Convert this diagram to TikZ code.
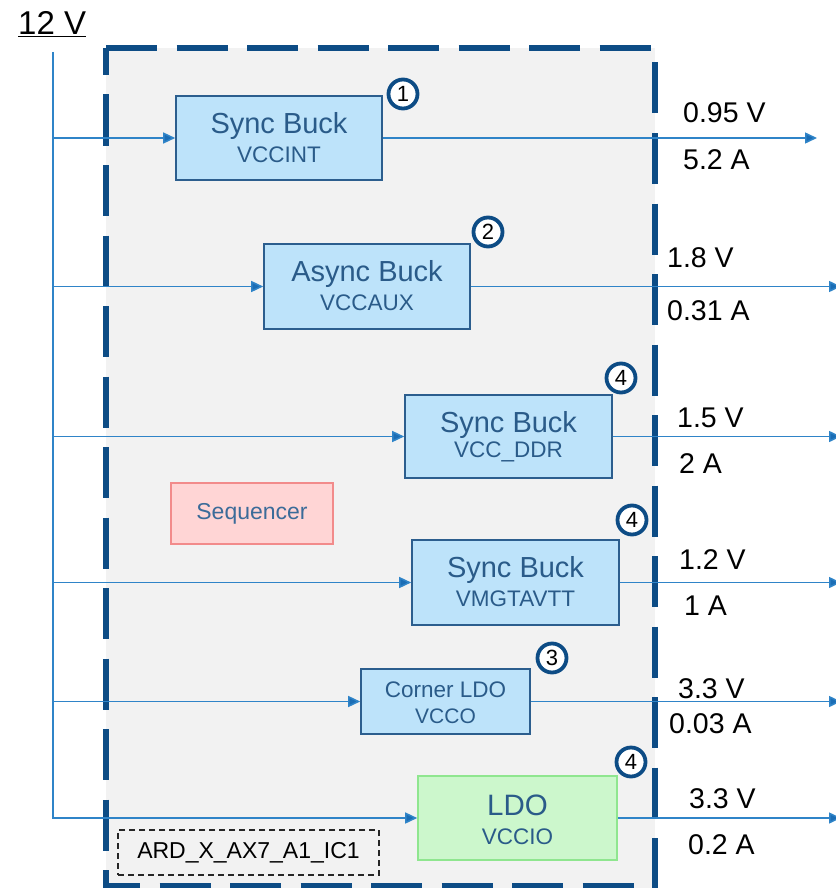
\documentclass[tikz,border=0pt]{standalone}
\usepackage{fontspec}
\setmainfont{Liberation Sans}
\usetikzlibrary{arrows.meta}
\definecolor{framec}{HTML}{0D4C85}
\definecolor{grayf}{HTML}{F2F2F2}
\definecolor{boxf}{HTML}{BDE3FA}
\definecolor{boxd}{HTML}{2C5E8E}
\definecolor{boxt}{HTML}{2A5B89}
\definecolor{wire}{HTML}{2F84C8}
\definecolor{tipc}{HTML}{1B6DB5}
\definecolor{seqf}{HTML}{FFD5D5}
\definecolor{seqd}{HTML}{F28B8B}
\definecolor{seqt}{HTML}{3B6B99}
\definecolor{ldof}{HTML}{CCF7CC}
\definecolor{ldod}{HTML}{8FE68F}
\tikzset{
  fs/.style={font=\fontsize{#1}{#1}\selectfont},
  bluebox/.style={draw=boxd, fill=boxf, line width=1.6pt, inner sep=0pt},
  greenbox/.style={draw=ldod, fill=ldof, line width=1.6pt, inner sep=0pt},
  seqbox/.style={draw=seqd, fill=seqf, line width=1.6pt, inner sep=0pt},
  ttl/.style={fs=29, text=boxt, anchor=base, inner sep=0pt},
  sub/.style={fs=22.5, text=boxt, anchor=base, inner sep=0pt},
  wireln/.style={draw=wire, line width=1.5pt},
  arr/.style={wireln, -{Triangle[length=12pt,width=11pt,fill=tipc]}},
  lbl/.style={fs=28.5, anchor=west, inner sep=0pt, text=black},
  num/.style={circle, draw=framec, line width=3.8pt, minimum size=29pt, inner sep=0pt, fill=white, fs=22},
  framedash/.style={draw=framec, line width=6pt, dash pattern=on 51pt off 19.5pt},
}
\begin{document}
\begin{tikzpicture}[x=1pt,y=-1pt]
\useasboundingbox (0,0) rectangle (835,888);
% background of the chip
\fill[grayf] (106,48) rectangle (655,888);
% frame
\draw[framedash, dash phase=0] (106,48) -- (655,48);
\draw[framedash, dash phase=24] (106,48) -- (106,890);
\draw[framedash, dash phase=56] (655,48) -- (655,890);
\draw[framedash, dash phase=17] (106,886) -- (655,886);

% 12 V input
\node[fs=33, inner sep=0pt, anchor=base west] (v12) at (18,35) {\underline{12 V}};
\coordinate (bustop) at (53,52);
\coordinate (busbot) at (53,819);
\draw[wireln] (bustop) -- (busbot);

% converters
\node[bluebox, minimum width=206pt, minimum height=84pt] (b1) at (279,138) {};
\node[ttl] at ([yshift=5pt]b1.center) {Sync Buck};
\node[sub] at ([yshift=-24pt]b1.center) {VCCINT};

\node[bluebox, minimum width=206pt, minimum height=85pt] (b2) at (367,286.5) {};
\node[ttl] at ([yshift=5pt]b2.center) {Async Buck};
\node[sub] at ([yshift=-24pt]b2.center) {VCCAUX};

\node[bluebox, minimum width=207pt, minimum height=83pt] (b3) at (508.5,436.5) {};
\node[ttl] at ([yshift=4pt]b3.center) {Sync Buck};
\node[sub] at ([yshift=-21pt]b3.center) {VCC\_DDR};

\node[bluebox, minimum width=207pt, minimum height=85pt] (b4) at (515.5,582.5) {};
\node[ttl] at ([yshift=5pt]b4.center) {Sync Buck};
\node[sub] at ([yshift=-24pt]b4.center) {VMGTAVTT};

\node[bluebox, minimum width=169pt, minimum height=65pt] (b5) at (445.5,701.5) {};
\node[sub] at ([yshift=4.5pt]b5.center) {Corner LDO};
\node[sub, fs=21] at ([yshift=-21.5pt]b5.center) {VCCO};

\node[greenbox, minimum width=199pt, minimum height=84pt] (b6) at (517.5,818) {};
\node[ttl, fs=29.5] at ([yshift=3pt]b6.center) {LDO};
\node[sub] at ([yshift=-26pt]b6.center) {VCCIO};

\node[seqbox, minimum width=162pt, minimum height=61pt] (seq) at (252,513.5) {};
\node[fs=23, text=seqt, inner sep=0pt] at (seq.center) {Sequencer};

\node[draw=black!85, dash pattern=on 6pt off 4pt, line width=1.4pt, minimum width=261pt, minimum height=45pt, inner sep=0pt] (ic) at (248.5,852.5) {};
\node[fs=23, inner sep=0pt] at (ic.center) {ARD\_X\_AX7\_A1\_IC1};

% number badges
\node[num] (n1) at (403,94) {1};
\node[num] (n2) at (488,232) {2};
\node[num] (n3) at (621,378) {4};
\node[num] (n4) at (632,520) {4};
\node[num] (n5) at (552,658) {3};
\node[num] (n6) at (631,762) {4};

% input branches
\foreach \b in {b1,b2,b3,b4,b5,b6}
  \draw[arr] (bustop |- \b.west) -- (\b.west);

% outputs
\coordinate (o1) at (817,0);
\coordinate (oe) at (841,0);
\draw[arr] (b1.east) -- (b1.east -| o1);
\foreach \b in {b2,b3,b4,b5,b6}
  \draw[arr] (\b.east) -- (\b.east -| oe);

% output labels
\node[lbl] at (683,113) {0.95 V};
\node[lbl] at (683,160) {5.2 A};
\node[lbl] at (667,258) {1.8 V};
\node[lbl] at (667,311) {0.31 A};
\node[lbl] at (677,418) {1.5 V};
\node[lbl] at (679,464) {2 A};
\node[lbl] at (679,560) {1.2 V};
\node[lbl] at (684,606) {1 A};
\node[lbl] at (678,689) {3.3 V};
\node[lbl] at (669,724) {0.03 A};
\node[lbl] at (689,799) {3.3 V};
\node[lbl] at (688,845) {0.2 A};
\end{tikzpicture}
\end{document}
